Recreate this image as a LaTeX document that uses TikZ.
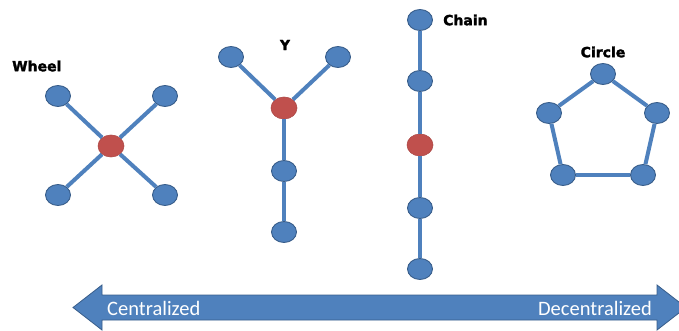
\documentclass[tikz,border=0pt]{standalone}
\usepackage{fontspec}
\newfontfamily\titlefont[BoldFeatures={FakeBold=2}]{DejaVu Sans}
\newfontfamily\barfont{Carlito}
\usetikzlibrary{shapes.geometric}
\definecolor{nblue}{HTML}{4F81BD}
\definecolor{dblue}{HTML}{385D8A}
\definecolor{nred}{HTML}{C0504D}
\tikzset{
  bnode/.style={ellipse, fill=nblue, draw=dblue, line width=0.9pt, minimum width=25pt, minimum height=21pt, inner sep=0pt},
  rnode/.style={ellipse, fill=nred, draw=nred!90!black, line width=0.6pt, minimum width=26pt, minimum height=22pt, inner sep=0pt},
  link/.style={draw=nblue, line width=4pt},
  ttl/.style={font=\titlefont\bfseries\fontsize{14}{16}\selectfont, text=black, inner sep=0pt},
  bartext/.style={font=\barfont\fontsize{20.5}{22}\selectfont, text=white, inner sep=0pt}
}
\begin{document}
\begin{tikzpicture}[x=1pt,y=-1pt]
\useasboundingbox (0,0) rectangle (679,331);
\clip (0,0) rectangle (679,331);
% Wheel
\node[ttl, anchor=west] (twheel) at (12,66) {Wheel};
\node[bnode] (w1) at (58,96) {};
\node[bnode] (w2) at (165,96) {};
\node[bnode] (w3) at (58,195) {};
\node[bnode] (w4) at (165,195) {};
\node[rnode] (wc) at (111,146) {};
\draw[link] (wc) -- (w1);
\draw[link] (wc) -- (w2);
\draw[link] (wc) -- (w3);
\draw[link] (wc) -- (w4);
% Y
\node[ttl] (ty) at (285,45) {Y};
\node[bnode] (y1) at (231,57) {};
\node[bnode] (y2) at (338,57) {};
\node[rnode] (yc) at (284,108) {};
\node[bnode] (y3) at (284,171) {};
\node[bnode] (y4) at (284,232) {};
\draw[link] (yc) -- (y1);
\draw[link] (yc) -- (y2);
\draw[link] (yc) -- (y3);
\draw[link] (y3) -- (y4);
% Chain
\node[ttl, anchor=west] (tchain) at (443,20) {Chain};
\node[bnode] (c1) at (420,20) {};
\node[bnode] (c2) at (420,81) {};
\node[rnode] (cc) at (420,145) {};
\node[bnode] (c3) at (420,208) {};
\node[bnode] (c4) at (420,269) {};
\draw[link] (c1) -- (c2);
\draw[link] (c2) -- (cc);
\draw[link] (cc) -- (c3);
\draw[link] (c3) -- (c4);
% Circle
\node[ttl] (tcircle) at (603,52) {Circle};
\node[bnode] (p1) at (603,74) {};
\node[bnode] (p2) at (657,113) {};
\node[bnode] (p3) at (643,175) {};
\node[bnode] (p4) at (563,175) {};
\node[bnode] (p5) at (549,113) {};
\draw[link] (p1) -- (p2);
\draw[link] (p2) -- (p3);
\draw[link] (p3) -- (p4);
\draw[link] (p4) -- (p5);
\draw[link] (p5) -- (p1);
% Double arrow
\draw[fill=nblue, draw=dblue, line width=0.8pt, line join=miter]
  (73,307.5) -- (102,285) -- (102,295) -- (657,295) -- (657,285) -- (686,307.5)
  -- (657,330) -- (657,320) -- (102,320) -- (102,330) -- cycle;
\node[bartext, anchor=west] (cent) at (107,308) {Centralized};
\node[bartext, anchor=east] (dec) at (652,308) {Decentralized};
\end{tikzpicture}
\end{document}
